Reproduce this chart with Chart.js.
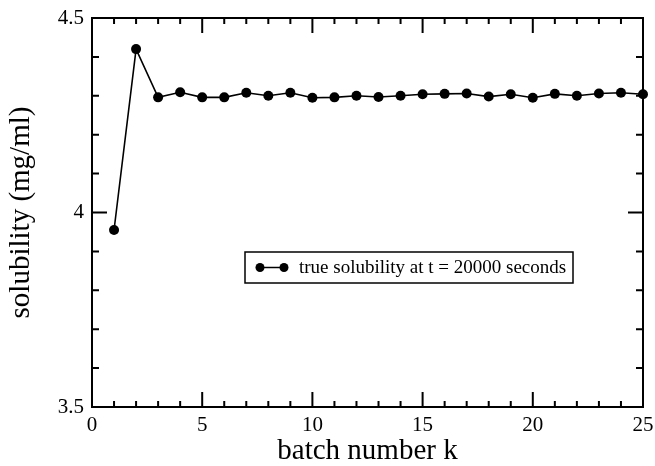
<!DOCTYPE html>
<html>
<head>
<meta charset="utf-8">
<script src="https://cdn.jsdelivr.net/npm/chart.js@4"></script>
<style>
  html, body { margin: 0; padding: 0; background: #fff; }
  #wrap { width: 655px; height: 466px; }
</style>
</head>
<body>
<div id="wrap"><canvas id="chart" width="655" height="466"></canvas></div>
<script>
// batch number k
const batches = [1, 2, 3, 4, 5, 6, 7, 8, 9, 10, 11, 12, 13, 14, 15, 16, 17, 18, 19, 20, 21, 22, 23, 24, 25];
// true solubility at t = 20000 seconds (mg/ml)
const solubility = [3.955, 4.42, 4.296, 4.309, 4.296, 4.296, 4.308, 4.300, 4.308, 4.295,
                    4.296, 4.300, 4.297, 4.300, 4.304, 4.305, 4.306, 4.298, 4.304, 4.295,
                    4.305, 4.300, 4.306, 4.308, 4.304];
const xTicks = [0, 5, 10, 15, 20, 25];
const yTicks = [3.5, 4, 4.5];
const yTickLabels = ['3.5', '4', '4.5'];
const seriesLabel = 'true solubility at t = 20000 seconds';

const serif = '"Liberation Serif", "Times New Roman", serif';

// frame + inward tick marks on all four sides
const frameTicks = {
  id: 'frameTicks',
  afterDraw(chart) {
    const ctx = chart.ctx;
    const a = chart.chartArea;
    const xs = chart.scales.x, ys = chart.scales.y;
    ctx.save();
    ctx.strokeStyle = '#000';
    ctx.lineWidth = 2;
    ctx.beginPath();
    for (let k = 0; k <= 25; k++) {
      const px = xs.getPixelForValue(k);
      const len = xTicks.includes(k) ? 15 : 6;
      ctx.moveTo(px, a.bottom); ctx.lineTo(px, a.bottom - len);
      ctx.moveTo(px, a.top); ctx.lineTo(px, a.top + len);
    }
    for (let i = 0; i <= 10; i++) {
      const v = 3.5 + i * 0.1;
      const py = ys.getPixelForValue(v);
      const len = (i % 5 === 0) ? 15 : 7;
      ctx.moveTo(a.left, py); ctx.lineTo(a.left + len, py);
      ctx.moveTo(a.right, py); ctx.lineTo(a.right - len, py);
    }
    ctx.stroke();
    ctx.strokeRect(a.left, a.top, a.right - a.left, a.bottom - a.top);
    ctx.restore();
  }
};

// legend box inside the plot
const boxLegend = {
  id: 'boxLegend',
  afterDraw(chart) {
    const ctx = chart.ctx;
    const x = 245, y = 252, w = 328, h = 31;
    const cy = y + h / 2;
    ctx.save();
    ctx.fillStyle = '#fff';
    ctx.fillRect(x, y, w, h);
    ctx.strokeStyle = '#000';
    ctx.lineWidth = 1.5;
    ctx.strokeRect(x, y, w, h);
    ctx.beginPath();
    ctx.moveTo(260, cy); ctx.lineTo(284, cy);
    ctx.stroke();
    ctx.fillStyle = '#000';
    [260, 284].forEach(function (mx) {
      ctx.beginPath();
      ctx.arc(mx, cy, 4.5, 0, Math.PI * 2);
      ctx.fill();
    });
    ctx.font = '19px ' + serif;
    ctx.textBaseline = 'middle';
    ctx.fillText(chart.data.datasets[0].label, 299, cy + 1);
    ctx.restore();
  }
};

new Chart(document.getElementById('chart'), {
  type: 'line',
  data: {
    datasets: [{
      label: seriesLabel,
      data: batches.map((k, i) => ({ x: k, y: solubility[i] })),
      borderColor: '#000',
      backgroundColor: '#000',
      borderWidth: 1.6,
      pointRadius: 5,
      pointBackgroundColor: '#000',
      pointBorderWidth: 0,
      tension: 0,
      clip: false
    }]
  },
  options: {
    responsive: false,
    animation: false,
    layout: { padding: { left: 0, top: 18, right: 12, bottom: 0 } },
    plugins: {
      legend: { display: false },
      tooltip: { enabled: false }
    },
    scales: {
      x: {
        type: 'linear',
        min: 0, max: 25,
        afterBuildTicks: s => { s.ticks = xTicks.map(v => ({ value: v })); },
        afterFit: s => { s.height = 59; s.paddingLeft = 0; s.paddingRight = 0; },
        grid: { display: false, drawTicks: false },
        border: { display: false },
        ticks: { color: '#000', font: { family: serif, size: 21 }, padding: 6, maxRotation: 0 },
        title: { display: true, text: 'batch number k', color: '#000',
                 font: { family: serif, size: 29 }, padding: { top: 0, bottom: -3 } }
      },
      y: {
        min: 3.5, max: 4.5,
        afterBuildTicks: s => { s.ticks = yTicks.map(v => ({ value: v })); },
        afterFit: s => { s.width = 92; s.paddingTop = 0; s.paddingBottom = 0; },
        grid: { display: false, drawTicks: false },
        border: { display: false },
        ticks: { color: '#000', font: { family: serif, size: 21 }, padding: 8,
                 callback: v => yTickLabels[yTicks.indexOf(v)] },
        title: { display: true, text: 'solubility (mg/ml)', color: '#000',
                 font: { family: serif, size: 29 }, padding: { top: 4, bottom: 0 } }
      }
    }
  },
  plugins: [frameTicks, boxLegend]
});
</script>
</body>
</html>
